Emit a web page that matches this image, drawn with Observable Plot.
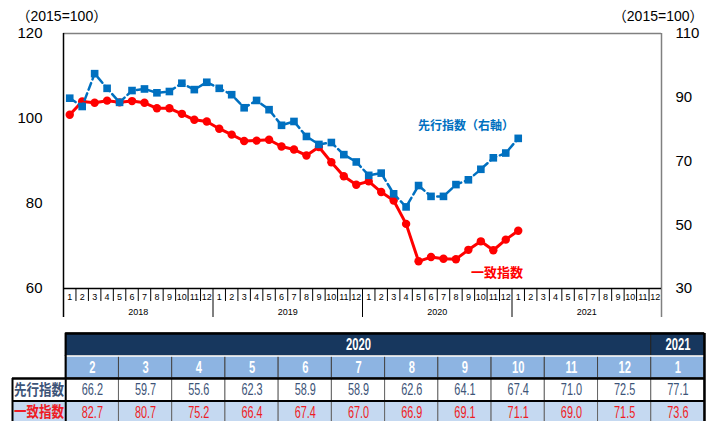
<!DOCTYPE html>
<html>
<head>
<meta charset="utf-8">
<script src="https://cdn.jsdelivr.net/npm/d3@7"></script>
<script src="https://cdn.jsdelivr.net/npm/@observablehq/plot@0.6"></script>
<style>
  html, body { margin: 0; padding: 0; background: #fff; }
  #chart svg, #table svg { display: block; }
</style>
</head>
<body>
<div id="chart"></div>
<div id="table"></div>
<script>
// ---------------- data ----------------
const years = ["2018", "2019", "2020", "2021"];
const monthTicks = ["1","2","3","4","5","6","7","8","9","10","11","12"];
const leftTicks = [60, 80, 100, 120];
const rightTicks = [30, 50, 70, 90, 110];
const unitLabel = "（2015=100）";
const leadingName = "先行指数";
const coincidentName = "一致指数";
const leadingNote = "先行指数（右軸）";

// monthly values from 2018-01 to 2021-01
const leading = [
  89.7, 87.1, 97.4, 92.8, 88.4, 92.1, 92.6, 91.4, 91.8, 94.4, 92.4, 94.7,
  92.8, 90.8, 86.7, 89.0, 86.1, 81.2, 82.4, 77.7, 75.2, 75.8, 72.0, 69.7,
  65.5, 66.2, 59.7, 55.6, 62.3, 58.9, 58.9, 62.6, 64.1, 67.4, 71.0, 72.5,
  77.1
];
const coincident = [
  100.9, 104.0, 103.7, 104.2, 103.8, 104.1, 103.7, 102.4, 102.4, 101.1, 99.7, 99.3,
  97.6, 96.2, 94.7, 94.8, 95.0, 93.4, 92.7, 91.3, 93.3, 89.7, 86.4, 84.4,
  85.2, 82.7, 80.7, 75.2, 66.4, 67.4, 67.0, 66.9, 69.1, 71.1, 69.0, 71.5,
  73.6
];
const tableCount = 12; // last 12 months shown in table

// ---------------- helpers ----------------
const BLUE = "#0070c0";
const RED = "#ff0000";
const FONT = "'Liberation Sans', Arial, 'Noto Sans CJK JP', sans-serif";
const CJK = "'Noto Sans CJK JP', sans-serif";
// right axis [30,110] mapped onto left axis [60,120]
const rightToLeft = d3.scaleLinear().domain([rightTicks[0], rightTicks[rightTicks.length-1]])
  .range([leftTicks[0], leftTicks[leftTicks.length-1]]);

const nMonths = years.length * 12;
const series = leading.map((v, i) => ({
  i, lead: v, coin: coincident[i],
  month: monthTicks[i % 12], year: years[Math.floor(i / 12)]
}));
const monthCells = d3.range(nMonths).map(i => ({i, label: monthTicks[i % 12]}));
const monthBounds = d3.range(1, nMonths).filter(i => i % 12 !== 0);
const yearBounds = d3.range(0, nMonths + 1, 12);
const yearCells = years.map((y, k) => ({k, y}));

// ---------------- main chart ----------------
const chart = Plot.plot({
  width: 707,
  height: 332,
  marginLeft: 63,
  marginRight: 46,
  marginTop: 33,
  marginBottom: 44,
  style: {fontFamily: FONT, background: "#fff"},
  x: {domain: [0, nMonths], axis: null},
  y: {domain: [leftTicks[0], leftTicks[leftTicks.length-1]], axis: null},
  marks: [
    // frame
    Plot.ruleY([leftTicks[leftTicks.length-1]], {stroke: "#808080", strokeWidth: 1.5}),
    Plot.ruleX([nMonths], {stroke: "#808080", strokeWidth: 1.5, insetBottom: -29}),
    Plot.ruleY([leftTicks[0]], {stroke: "#000", strokeWidth: 1.5}),
    Plot.ruleX([0], {stroke: "#000", strokeWidth: 1.5, insetBottom: -29}),
    // month / year separators
    Plot.ruleX(monthBounds, {stroke: "#000", strokeWidth: 1, insetTop: 255, insetBottom: -13}),
    Plot.ruleX(yearBounds.slice(1, -1), {stroke: "#000", strokeWidth: 1, insetTop: 255, insetBottom: -29}),
    Plot.text(monthCells, {x: d => d.i + 0.5, y: () => leftTicks[0], text: "label", dy: 9, fontSize: 9, fill: "#000"}),
    Plot.text(yearCells, {x: d => d.k * 12 + 6, y: () => leftTicks[0], text: "y", dy: 24, fontSize: 9, fill: "#000"}),
    // axes
    Plot.axisY(leftTicks, {anchor: "left", tickSize: 0, tickPadding: 21, fontSize: 15, label: null, fill: "#000"}),
    Plot.axisY(rightTicks.map(rightToLeft), {anchor: "right", tickSize: 0, tickPadding: 14, fontSize: 15, label: null,
      tickFormat: d => String(Math.round(rightToLeft.invert(d))), fill: "#000"}),
    Plot.text([unitLabel], {text: d => d, frameAnchor: "top-left", textAnchor: "start", dx: -47, dy: -22, fontSize: 14, fill: "#000"}),
    Plot.text([unitLabel], {text: d => d, frameAnchor: "top-right", textAnchor: "end", dx: 42, dy: -22, fontSize: 14, fill: "#000"}),
    // coincident index (left axis)
    Plot.line(series, {x: d => d.i + 0.5, y: "coin", stroke: RED, strokeWidth: 3}),
    Plot.dot(series, {x: d => d.i + 0.5, y: "coin", r: 4.2, fill: RED, stroke: "none"}),
    // leading index (right axis)
    Plot.line(series, {x: d => d.i + 0.5, y: d => rightToLeft(d.lead), stroke: BLUE, strokeWidth: 2.5, strokeDasharray: "7,4"}),
    Plot.dot(series, {x: d => d.i + 0.5, y: d => rightToLeft(d.lead), symbol: "square", r: 4.3, fill: BLUE, stroke: "none"}),
    // series labels
    Plot.text([leadingNote], {text: d => d, x: 28.45, y: 98.3, textAnchor: "start", fontSize: 12, fontWeight: "bold", fill: BLUE, fontFamily: CJK}),
    Plot.text([coincidentName], {text: d => d, x: 32.7, y: 63.6, textAnchor: "start", fontSize: 13, fontWeight: "bold", fill: RED, fontFamily: CJK})
  ]
});
document.getElementById("chart").appendChild(chart);

// ---------------- table ----------------
const start = leading.length - tableCount;
const tRows = d3.range(tableCount).map(c => ({
  c,
  month: series[start + c].month,
  year: series[start + c].year,
  lead: leading[start + c].toFixed(1),
  coin: coincident[start + c].toFixed(1)
}));
// year spans for header row
const yearSpans = d3.groups(tRows, d => d.year).map(([y, rows]) => ({
  y, x1: d3.min(rows, d => d.c), x2: d3.max(rows, d => d.c) + 1
}));

const NAVY = "#17375e", MIDBLUE = "#8db4e2", LIGHTBLUE = "#c5d9f1";
const NARROW = "'Liberation Sans', Arial, sans-serif";

const table = Plot.plot({
  width: 707,
  height: 91,
  marginLeft: 12,
  marginRight: 3,
  marginTop: 1,
  marginBottom: 0,
  style: {fontFamily: NARROW, background: "#fff"},
  x: {domain: [-1, tableCount], axis: null},
  y: {domain: [0, 4], reverse: true, axis: null},
  marks: [
    // row 0: year header
    Plot.rect(yearSpans, {x1: "x1", x2: "x2", y1: 0, y2: 1, fill: NAVY, stroke: "#222", strokeWidth: 1}),
    // row 1: months
    Plot.rect(tRows, {x1: "c", x2: d => d.c + 1, y1: 1, y2: 2, fill: MIDBLUE, stroke: "#444", strokeWidth: 1}),
    // row 2: leading
    Plot.rect(tRows, {x1: "c", x2: d => d.c + 1, y1: 2, y2: 3, fill: "#fff", stroke: "#666", strokeWidth: 1}),
    // row 3: coincident
    Plot.rect(tRows, {x1: "c", x2: d => d.c + 1, y1: 3, y2: 4, fill: LIGHTBLUE, stroke: "#666", strokeWidth: 1}),
    // label cells
    Plot.rect([leadingName], {x1: -1, x2: 0, y1: 2, y2: 3, fill: "#fff"}),
    Plot.rect([coincidentName], {x1: -1, x2: 0, y1: 3, y2: 4, fill: LIGHTBLUE}),
    // borders
    Plot.ruleY([1], {x1: 0, x2: tableCount, stroke: "#fff", strokeWidth: 1.5}),
    Plot.ruleY([0], {x1: 0, x2: tableCount, stroke: "#000", strokeWidth: 2.5}),
    Plot.ruleY([2], {x1: -1, x2: tableCount, stroke: "#000", strokeWidth: 2.5}),
    Plot.ruleY([3], {x1: -1, x2: tableCount, stroke: "#000", strokeWidth: 2}),
    Plot.ruleX([0], {y1: 0, y2: 4, stroke: "#000", strokeWidth: 2}),
    Plot.ruleX([-1], {y1: 2, y2: 4, stroke: "#000", strokeWidth: 2}),
    Plot.ruleX([tableCount], {y1: 0, y2: 4, stroke: "#000", strokeWidth: 2.5}),
    // texts
    Plot.text(yearSpans, {x: d => (d.x1 + d.x2) / 2, y: 0.5, text: "y", fill: "#fff", fontWeight: "bold", fontSize: 17, className: "narrow"}),
    Plot.text(tRows, {x: d => d.c + 0.5, y: 1.5, text: "month", fill: "#fff", fontWeight: "bold", fontSize: 17, className: "narrow"}),
    Plot.text(tRows, {x: d => d.c + 0.5, y: 2.5, text: "lead", fill: "#3d5478", fontSize: 16.5, className: "narrow"}),
    Plot.text(tRows, {x: d => d.c + 0.5, y: 3.5, text: "coin", fill: "#ee1c25", fontSize: 16.5, className: "narrow"}),
    Plot.text([leadingName], {text: d => d, x: -0.5, y: 2.5, fill: "#3d5478", fontSize: 15, fontWeight: "bold", fontFamily: CJK, className: "narrowlabel"}),
    Plot.text([coincidentName], {text: d => d, x: -0.5, y: 3.5, fill: "#ee1c25", fontSize: 15, fontWeight: "bold", fontFamily: CJK, className: "narrowlabel"})
  ]
});
document.getElementById("table").appendChild(table);
// condensed look of the table's typeface
d3.select(table).selectAll(".narrow text").each(function() {
  const w = this.getComputedTextLength();
  this.setAttribute("textLength", (w * 0.66).toFixed(1));
  this.setAttribute("lengthAdjust", "spacingAndGlyphs");
});
d3.select(table).selectAll(".narrowlabel text").each(function() {
  this.setAttribute("textLength", "50");
  this.setAttribute("lengthAdjust", "spacingAndGlyphs");
});
</script>
</body>
</html>
